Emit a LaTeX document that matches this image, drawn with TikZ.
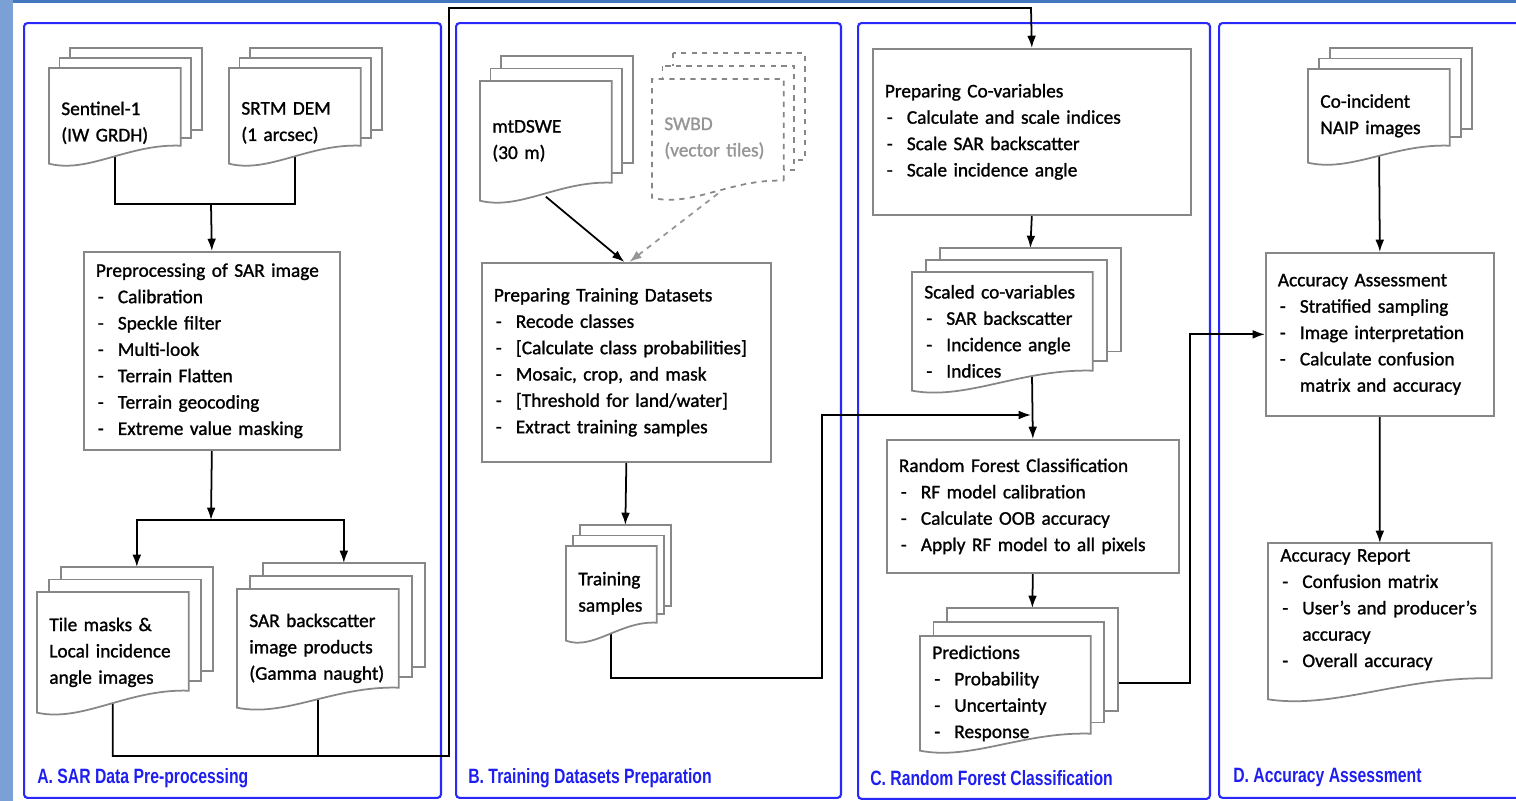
\documentclass[tikz,border=0pt]{standalone}
\usepackage{fontspec}
\setmainfont{Carlito}[FakeBold=1.2]
\newfontfamily\panelfont[FakeStretch=0.76]{Liberation Sans}
\usetikzlibrary{positioning, arrows, arrows.meta, calc, shapes}

\definecolor{boxgray}{RGB}{135,135,135}
\definecolor{panelblue}{RGB}{40,40,250}
\definecolor{labelblue}{RGB}{30,30,240}
\definecolor{stripblue}{RGB}{122,160,214}
\definecolor{topblue}{RGB}{66,118,190}
\definecolor{swbdgray}{RGB}{150,150,150}

\pgfdeclarelayer{background}
\pgfdeclarelayer{docs}
\pgfsetlayers{background,docs,main}

\newcommand{\itm}[1]{\makebox[0.44cm][l]{\hspace{0.04cm}-}#1}

% front page of a document symbol: name, right drop, left drop
\newcommand{\docpage}[4][]{%
	\begin{pgfonlayer}{docs}
	\draw[docline,#1] ($(#2.south east)+(0,#3)$) -- (#2.north east) -- (#2.north west) -- ($(#2.south west)+(0,#4)$) 
	.. controls ($(#2.south west)!0.3!(#2.south east)+(0,#4+10)$) and ($(#2.south west)!0.6!(#2.south east)+(0,#3-2)$) .. ($(#2.south east)+(0,#3)$) -- cycle;
	\end{pgfonlayer}}

% stack of three pages: name, dx, dy, right drop, left drop
\newcommand{\docstack}[6][]{%
	\begin{pgfonlayer}{docs}
	\foreach \k in {2,1}
	\draw[docline,#1] ($(#2.north west)+(\k*#3,\k*#4)$) rectangle ($(#2.south east)+(\k*#3,#5+0.8*\k*#4)$);
	\end{pgfonlayer}
	\docpage[#1]{#2}{#5}{#6}
	\coordinate (#2-back) at ($(#2.north)+(2*#3,2*#4)$);}

\tikzset{
	box/.style={draw=boxgray, line width=1pt, rectangle, anchor=north west, inner xsep=0.24cm, 
		align=left, font=\fontsize{11pt}{15pt}\selectfont},
	doc/.style={rectangle, anchor=north west, inner xsep=0.24cm, align=left, 
		font=\fontsize{11pt}{15pt}\selectfont},
	docline/.style={draw=boxgray, fill=white, line width=1pt},
	panel/.style={draw=panelblue, line width=1.2pt, rounded corners=2pt, anchor=north west, inner sep=0pt},
	panellabel/.style={anchor=west, text=labelblue, inner sep=0pt, 
		font=\panelfont\bfseries\fontsize{11.8pt}{13pt}\selectfont},
	wire/.style={line width=1pt},
	link/.style={wire, -{Latex[length=7pt,width=5pt]}},
}

\begin{document}
\begin{tikzpicture}[x=0.02cm, y=-0.02cm]
		\useasboundingbox (0,0) rectangle (1516,801);
		
		%Panel A
		\node (sentinel) at (49,68) [doc, text width=2.14cm, minimum height=2.18cm]{Sentinel-1\\(IW GRDH)};
		\docstack{sentinel}{10.5}{-10}{-32}{-14}
		
		\node (srtm) at (229,68) [doc, text width=2.14cm, minimum height=2.18cm]{SRTM DEM\\(1 arcsec)};
		\docstack{srtm}{10.5}{-10}{-32}{-14}
		
		\node (preproc) at (83,251) [box, text width=4.64cm, minimum height=3.96cm]{Preprocessing of SAR 
		image\\\itm{Calibration}\\\itm{Speckle filter}\\\itm{Multi-look}\\\itm{Terrain Flatten}\\\itm{Terrain 
		geocoding}\\\itm{Extreme value masking}};
		
		\node (tile) at (37,592) [doc, text width=2.54cm, minimum height=2.40cm]{Tile masks \&\\Local 
		incidence\\angle images};
		\docstack{tile}{12}{-12.5}{-22}{0}
		
		\node (sar) at (237,589) [doc, text width=2.74cm, minimum height=2.36cm]{SAR backscatter\\image 
		products\\(Gamma naught)};
		\docstack{sar}{13}{-13}{-20}{0}
		
		%Panel B
		\node (mtdswe) at (480,81) [doc, text width=2.14cm, minimum height=2.38cm]{mtDSWE\\(30 m)};
		\docstack{mtdswe}{10.5}{-12.5}{-18}{0}
		
		\node (swbd) at (652,79) [doc, text width=2.14cm, minimum height=2.36cm, text=swbdgray]{SWBD\\(vector 
		tiles)};
		\docstack[dashed]{swbd}{10.5}{-13}{-17}{0}
		
		\node (prept) at (481,262) [box, text width=5.30cm, minimum height=3.98cm]{Preparing Training 
		Datasets\\\itm{Recode classes}\\\itm{[Calculate class probabilities]}\\\itm{Mosaic, crop, and 
		mask}\\\itm{[Threshold for land/water]}\\\itm{Extract training samples}};
		
		\node (train) at (566,546) [doc, text width=1.32cm, minimum height=1.88cm]{Training\\samples};
		\docstack{train}{7}{-10.5}{-18}{0}
		
		%Panel C
		\node (covar) at (872,48) [box, text width=5.88cm, minimum height=3.32cm]{Preparing 
		Co-variables\\\itm{Calculate and scale indices}\\\itm{Scale SAR backscatter}\\\itm{Scale incidence 
		angle}};
		
		\node (scaled) at (912,272) [doc, text width=3.12cm, minimum height=2.36cm]{Scaled 
		co-variables\\\itm{SAR backscatter}\\\itm{Incidence angle}\\\itm{Indices}};
		\docstack{scaled}{14}{-12}{-20}{0}
		
		\node (rf) at (886,439) [box, text width=5.36cm, minimum height=2.66cm]{Random Forest 
		Classification\\\itm{RF model calibration}\\\itm{Calculate OOB accuracy}\\\itm{Apply RF model to all 
		pixels}};
		
		\node (pred) at (920,636) [doc, text width=2.92cm, minimum 
		height=2.28cm]{Predictions\\\itm{Probability}\\\itm{Uncertainty}\\\itm{Response}};
		\docstack{pred}{13.5}{-14}{-17}{0}
		
		%Panel D
		\node (naip) at (1308,69) [doc, text width=2.34cm, minimum height=1.86cm]{Co-incident\\NAIP images};
		\docstack{naip}{11}{-10.5}{-17}{0}
		
		\node (acc) at (1265,252) [box, text width=4.08cm, minimum height=3.26cm]{Accuracy 
		Assessment\\\itm{Stratified sampling}\\\itm{Image interpretation}\\\itm{Calculate 
		confusion}\\\hspace*{0.44cm}matrix and accuracy};
		
		\node (report) at (1268,543) [doc, text width=3.98cm, minimum height=2.62cm]{Accuracy 
		Report\\\itm{Confusion matrix}\\\itm{User’s and producer’s}\\\hspace*{0.44cm}accuracy\\\itm{Overall 
		accuracy}};
		\docpage{report}{2}{23}
		
		%Panel labels
		\node (labA) at (37,778) [panellabel]{A. SAR Data Pre-processing};
		\node (labB) at (468,778) [panellabel]{B. Training Datasets Preparation};
		\node (labC) at (870,778) [panellabel]{C. Random Forest Classification};
		\node (labD) at (1233,778) [panellabel]{D. Accuracy Assessment};
		
		%Bends
		\coordinate (mergeA) at (211,204);
		\coordinate (splitA) at (211,520);
		\coordinate (bendA) at (449,756);
		\coordinate (topC) at (1031,8);
		\coordinate (bendB) at (822,678);
		\coordinate (joinC) at (1031,415);
		\coordinate (bendC) at (1190,683);
		
		\begin{pgfonlayer}{background}
		\fill[stripblue] (0,0) rectangle (13,801);
		\fill[topblue] (13,0) rectangle (1516,3);
		
		\node (panelA) at (23,22) [panel, minimum width=8.34cm, minimum height=15.5cm]{};
		\node (panelB) at (455,22) [panel, minimum width=7.70cm, minimum height=15.5cm]{};
		\node (panelC) at (857,22) [panel, minimum width=7.04cm, minimum height=15.52cm]{};
		\node (panelD) at (1218,22) [panel, minimum width=6.20cm, minimum height=15.5cm]{};
		
		%Links
		\draw[wire] (sentinel.center) |- (mergeA);
		\draw[wire] (srtm.center) |- (mergeA);
		\draw[link] (mergeA) -- (preproc.north);
		\draw[link] (preproc.south) -- (splitA);
		\draw[link] (splitA) -| (tile-back);
		\draw[link] (splitA) -| (sar-back);
		\draw[link] (tile.center) |- (bendA) |- (topC) -- (covar.north);
		\draw[wire] (sar.center) -- (sar.center |- bendA);
		\draw[link] ($(mtdswe.south)+(0,-4)$) -- ($(prept.north)+(-2,0)$);
		\draw[link, swbdgray, dashed] ($(swbd.south)+(0,-4)$) -- ($(prept.north)+(3,0)$);
		\draw[link] (prept.south) -- (train-back);
		\draw[link] (train.center) |- (bendB) |- (joinC);
		\draw[link] (covar.south) -- (scaled-back);
		\draw[link] (scaled-back) -- (rf.north);
		\draw[link] (rf.south) -- (pred-back);
		\draw[link] (pred.center |- bendC) -- (bendC) |- (acc.west);
		\draw[link] (naip.center) -- (acc.north);
		\draw[link] (acc.south) -- (report.north);
		\end{pgfonlayer}
		
\end{tikzpicture}
\end{document}
